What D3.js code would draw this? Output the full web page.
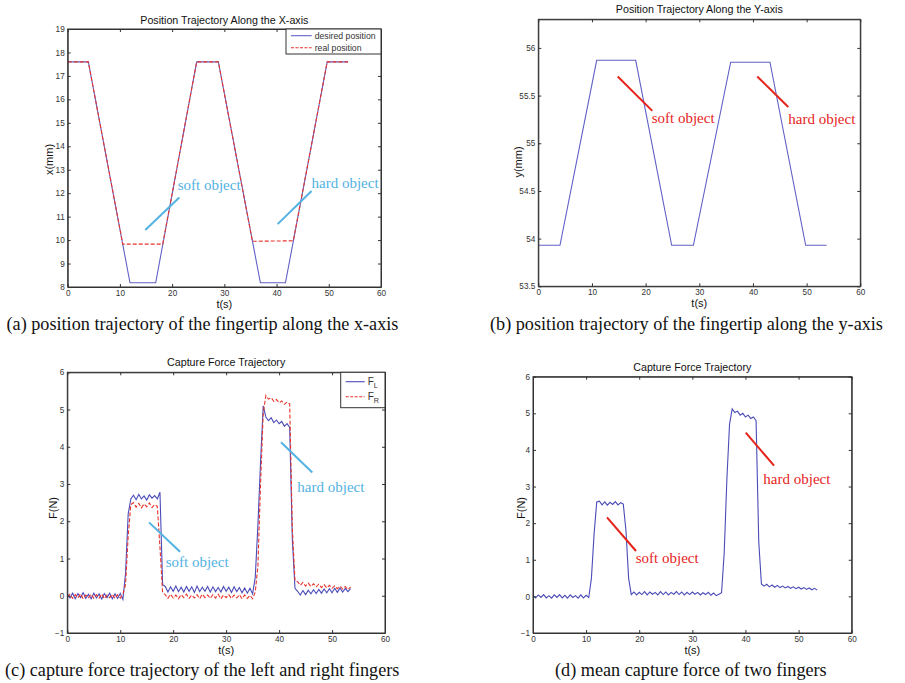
<!DOCTYPE html>
<html>
<head>
<meta charset="utf-8">
<script src="https://cdn.jsdelivr.net/npm/d3@7"></script>
<style>
  body { margin: 0; background: #fff; }
  svg { display: block; }
</style>
</head>
<body>
<svg id="svg" width="905" height="683"></svg>
<script>
// ---- data ----
// (a) x position, [t, mm]
const xDesired = [[0,17.6],[3.95,17.6],[11.93,8.18],[16.85,8.18],[24.7,17.6],[28.85,17.6],[36.9,8.18],[41.7,8.18],[49.7,17.6],[53.7,17.6]];
const xReal = [[0,17.6],[3.95,17.6],[10.55,9.83],[18.2,9.83],[24.7,17.6],[28.85,17.6],[35.38,9.95],[43.2,9.97],[49.7,17.6],[53.7,17.6]];
// (b) y position, [t, mm]
const yTraj = [[0,53.93],[4.04,53.93],[10.88,55.87],[18.15,55.87],[24.85,53.93],[28.9,53.93],[35.85,55.85],[43.17,55.85],[49.82,53.93],[53.73,53.93]];

// (c),(d) forces sampled every 0.5 s from t = 0
const tStep = 0.5;
const forceL = [
  0.05,-0.06,0.07,-0.08,0.06,-0.05,0.08,-0.07,0.04,-0.08,0.07,-0.06,0.05,-0.09,0.06,-0.05,0.07,-0.08,0.05,-0.07,0.06,-0.10,
  0.6,2.2,2.6,
  2.70,2.58,2.72,2.60,2.68,2.57,2.71,2.62,2.69,2.60,
  2.78,0.30,
  0.25,0.10,0.24,0.12,0.26,0.11,0.23,0.10,0.25,0.12,0.24,0.09,0.26,0.11,0.23,0.12,0.25,0.10,0.24,0.11,
  0.22,0.10,0.25,0.12,0.23,0.09,0.24,0.11,0.22,0.08,0.21,0.07,0.20,0.05,
  0.5,1.9,3.6,5.1,
  4.80,4.70,4.78,4.65,4.72,4.62,4.68,4.55,4.62,4.52,
  1.5,0.20,
  0.12,0.02,0.14,0.03,0.15,0.05,0.16,0.06,0.17,0.07,0.18,0.08,0.19,0.08,0.20,0.09,0.21,0.10,0.20,0.11,0.19
];
const forceR = [
  -0.04,0.04,-0.07,0.03,-0.06,0.05,-0.08,0.02,-0.05,0.04,-0.07,0.03,-0.06,0.05,-0.08,0.02,-0.05,0.04,-0.07,0.03,-0.06,0.04,
  0.3,1.6,2.45,
  2.50,2.38,2.48,2.36,2.47,2.39,2.49,2.37,2.45,2.40,
  1.3,0.08,
  0.03,-0.07,0.04,-0.06,0.02,-0.08,0.03,-0.05,0.04,-0.07,0.02,-0.06,0.03,-0.08,0.04,-0.05,0.02,-0.07,0.03,-0.06,
  0.04,-0.08,0.02,-0.05,0.03,-0.07,0.02,-0.06,0.03,-0.08,0.02,-0.07,0.01,-0.08,
  0.1,0.8,3.0,4.9,
  5.38,5.28,5.32,5.22,5.27,5.18,5.23,5.14,5.20,5.15,
  1.8,0.40,
  0.38,0.28,0.36,0.26,0.34,0.25,0.32,0.24,0.31,0.22,0.30,0.21,0.28,0.20,0.27,0.19,0.26,0.18,0.25,0.17,0.23
];
const forceMean = [
  0.03,-0.04,0.04,-0.03,0.05,-0.04,0.02,-0.05,0.04,-0.03,0.05,-0.04,0.03,-0.05,0.04,-0.03,0.02,-0.05,0.04,-0.04,0.03,-0.03,
  0.5,1.7,2.58,
  2.60,2.50,2.58,2.49,2.57,2.51,2.59,2.50,2.56,2.52,
  1.8,0.5,
  0.05,0.12,0.04,0.11,0.05,0.13,0.04,0.12,0.06,0.11,0.04,0.13,0.05,0.12,0.04,0.11,0.06,0.13,0.05,0.12,
  0.04,0.11,0.05,0.12,0.06,0.11,0.04,0.10,0.05,0.11,0.03,0.09,0.02,0.06,
  0.1,1.2,3.2,4.7,
  5.12,5.02,5.06,4.95,5.00,4.90,4.95,4.86,4.90,4.80,
  1.5,0.34,
  0.28,0.33,0.26,0.31,0.25,0.30,0.24,0.28,0.23,0.27,0.22,0.26,0.21,0.25,0.20,0.24,0.19,0.23,0.18,0.22,0.17
];

const tTicks = [0, 10, 20, 30, 40, 50, 60];
const xmmTicks = [8, 9, 10, 11, 12, 13, 14, 15, 16, 17, 18, 19];
const ymmTicks = [53.5, 54, 54.5, 55, 55.5, 56];
const forceTicks = [-1, 0, 1, 2, 3, 4, 5, 6];

// annotations: line from/to and text anchor in data units
const notesA = [
  { label: "soft object", from: [14.86, 10.43], to: [21.37, 11.82], at: [21.06, 12.13] },
  { label: "hard object", from: [40.2, 10.68], to: [46.7, 12.09], at: [46.7, 12.2] }
];
const notesB = [
  { label: "soft object", from: [14.8, 55.70], to: [21.24, 55.34], at: [21.13, 55.21] },
  { label: "hard object", from: [40.8, 55.70], to: [46.58, 55.38], at: [46.58, 55.20] }
];
const notesC = [
  { label: "soft object", from: [15.43, 1.97], to: [21.28, 1.18], at: [18.58, 0.76] },
  { label: "hard object", from: [40.36, 4.12], to: [46.27, 3.31], at: [43.44, 2.78] }
];
const notesD = [
  { label: "soft object", from: [13.93, 2.16], to: [19.39, 1.24], at: [19.34, 0.90] },
  { label: "hard object", from: [40.05, 4.47], to: [45.38, 3.57], at: [43.36, 3.06] }
];

const captions = [
  "(a) position trajectory of the fingertip along the x-axis",
  "(b) position trajectory of the fingertip along the y-axis",
  "(c) capture force trajectory of the left and right fingers",
  "(d) mean capture force of two fingers"
];

// ---- drawing ----
const BLUE = "#4b4bb8", BLUE_LIGHT = "#6060c6", RED = "#e8332b", CYAN = "#52b2e2", ANN_RED = "#e5231b";
const svg = d3.select("#svg");
const sans = "'Liberation Sans', Arial, sans-serif";
const serif = "'Liberation Serif', 'Times New Roman', serif";

function makePanel(p) {
  const x = d3.scaleLinear().domain([0, 60]).range([p.left, p.right]);
  const y = d3.scaleLinear().domain(p.yDomain).range([p.bottom, p.top]);
  const g = svg.append("g");
  g.append("rect")
    .attr("x", p.left).attr("y", p.top)
    .attr("width", p.right - p.left).attr("height", p.bottom - p.top)
    .attr("fill", "#fff").attr("stroke", "#333").attr("stroke-width", 1);
  const layer = g.append("g");

  const ax = g.append("g").attr("font-family", sans);
  ax.append("g").attr("transform", `translate(0,${p.bottom})`)
    .call(d3.axisBottom(x).tickValues(tTicks).tickSize(-3).tickSizeOuter(0).tickPadding(3));
  ax.append("g").attr("transform", `translate(0,${p.top})`)
    .call(d3.axisTop(x).tickValues(tTicks).tickSize(-3).tickSizeOuter(0).tickFormat(""));
  ax.append("g").attr("transform", `translate(${p.left},0)`)
    .call(d3.axisLeft(y).tickValues(p.yTicks).tickSize(-3).tickSizeOuter(0).tickPadding(3).tickFormat(d3.format("")));
  ax.append("g").attr("transform", `translate(${p.right},0)`)
    .call(d3.axisRight(y).tickValues(p.yTicks).tickSize(-3).tickSizeOuter(0).tickFormat(""));
  ax.selectAll(".domain").attr("stroke", "#333");
  ax.selectAll(".tick line").attr("stroke", "#333");
  ax.selectAll(".tick text").attr("font-size", 8.2).attr("fill", "#333");

  g.append("text").text(p.title)
    .attr("x", (p.left + p.right) / 2).attr("y", p.titleY)
    .attr("text-anchor", "middle").attr("font-family", sans).attr("font-size", 10.7).attr("fill", "#111");
  g.append("text").text("t(s)")
    .attr("x", (p.left + p.right) / 2).attr("y", p.bottom + 21)
    .attr("text-anchor", "middle").attr("font-family", sans).attr("font-size", 11).attr("fill", "#111");
  g.append("text").text(p.ylabel)
    .attr("transform", `translate(${p.ylabelX},${p.ylabelY}) rotate(-90)`)
    .attr("text-anchor", "middle").attr("font-family", sans).attr("font-size", 11).attr("fill", "#111");

  return { x, y, layer, g };
}

function drawSeries(P, pts, color, dashed) {
  const line = d3.line().x(d => P.x(d[0])).y(d => P.y(d[1]));
  P.layer.append("path").datum(pts)
    .attr("d", line).attr("fill", "none")
    .attr("stroke", color).attr("stroke-width", 1.1)
    .attr("stroke-dasharray", dashed ? "4,2" : null);
}

function sampled(vals) {
  return vals.map((v, i) => [i * tStep, v]);
}

function drawNotes(P, notes, color) {
  notes.forEach(n => {
    P.g.append("line")
      .attr("x1", P.x(n.from[0])).attr("y1", P.y(n.from[1]))
      .attr("x2", P.x(n.to[0])).attr("y2", P.y(n.to[1]))
      .attr("stroke", color).attr("stroke-width", 2);
    P.g.append("text").text(n.label)
      .attr("x", P.x(n.at[0])).attr("y", P.y(n.at[1]))
      .attr("font-family", serif).attr("font-size", 15).attr("fill", color);
  });
}

// (a)
const A = makePanel({ left: 67.7, right: 381, top: 29, bottom: 287, yDomain: [8, 19], yTicks: xmmTicks,
  title: "Position Trajectory Along the X-axis", titleY: 23.8, ylabel: "x(mm)", ylabelX: 53, ylabelY: 159.5 });
drawSeries(A, xDesired, BLUE_LIGHT, false);
drawSeries(A, xReal, RED, true);
drawNotes(A, notesA, CYAN);

// (b)
const B = makePanel({ left: 538.3, right: 860.3, top: 19.3, bottom: 286.3, yDomain: [53.5, 56.3], yTicks: ymmTicks,
  title: "Position Trajectory Along the Y-axis", titleY: 13.2, ylabel: "y(mm)", ylabelX: 522, ylabelY: 162 });
drawSeries(B, yTraj, BLUE_LIGHT, false);
drawNotes(B, notesB, ANN_RED);

// (c)
const C = makePanel({ left: 67.3, right: 385, top: 372.3, bottom: 633, yDomain: [-1, 6], yTicks: forceTicks,
  title: "Capture Force Trajectory", titleY: 366, ylabel: "F(N)", ylabelX: 57, ylabelY: 508 });
drawSeries(C, sampled(forceL), BLUE, false);
drawSeries(C, sampled(forceR), RED, true);
drawNotes(C, notesC, CYAN);

// (d)
const D = makePanel({ left: 533, right: 851.7, top: 376.7, bottom: 633, yDomain: [-1, 6], yTicks: forceTicks,
  title: "Capture Force Trajectory", titleY: 370.5, ylabel: "F(N)", ylabelX: 525, ylabelY: 508 });
drawSeries(D, sampled(forceMean), BLUE, false);
drawNotes(D, notesD, ANN_RED);

// legends
function legend(P, box, items) {
  const lg = P.g.append("g").attr("font-family", sans);
  lg.append("rect").attr("x", box.x).attr("y", box.y).attr("width", box.w).attr("height", box.h)
    .attr("fill", "#fff").attr("stroke", "#333");
  items.forEach((it, i) => {
    const yy = box.y + box.first + i * box.step;
    lg.append("line").attr("x1", box.x + 5).attr("x2", box.x + 5 + box.len)
      .attr("y1", yy).attr("y2", yy)
      .attr("stroke", it.color).attr("stroke-width", 1.1)
      .attr("stroke-dasharray", it.dashed ? "3,1.5" : null);
    const t = lg.append("text").attr("x", box.x + 8 + box.len).attr("y", yy + 3)
      .attr("font-size", box.fs).attr("fill", "#333");
    t.append("tspan").text(it.label);
    if (it.sub) t.append("tspan").text(it.sub).attr("font-size", box.fs * 0.72).attr("dy", 3);
  });
}
legend(A, { x: 286, y: 29, w: 95, h: 25, first: 6.7, step: 12, len: 20.7, fs: 8.7 }, [
  { label: "desired position", color: BLUE_LIGHT },
  { label: "real position", color: RED, dashed: true }
]);
legend(C, { x: 340.7, y: 372.3, w: 44.3, h: 35.4, first: 9.4, step: 15, len: 19, fs: 10 }, [
  { label: "F", sub: "L", color: BLUE },
  { label: "F", sub: "R", color: RED, dashed: true }
]);

// captions
const capPos = [[6.5, 330], [490, 330], [5, 676], [555, 676]];
captions.forEach((c, i) => {
  svg.append("text").text(c)
    .attr("x", capPos[i][0]).attr("y", capPos[i][1])
    .attr("font-family", serif).attr("font-size", 18.2).attr("fill", "#111");
});
</script>
</body>
</html>
